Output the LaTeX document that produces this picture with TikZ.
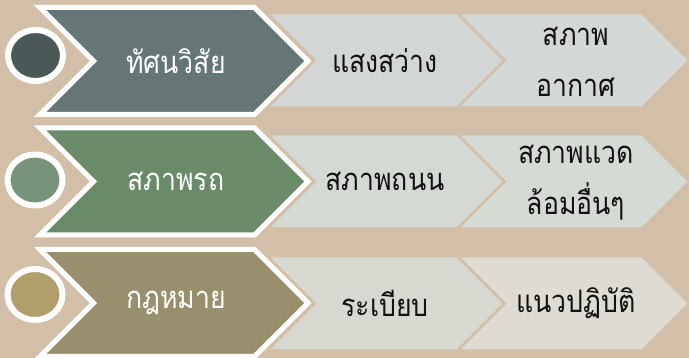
\documentclass[tikz,border=0pt]{standalone}
\usepackage{fontspec}
\newfontfamily\thai[Script=Thai,FakeStretch=0.86]{Loma}
\definecolor{bg}{HTML}{D3BEA7}
\definecolor{darkA}{HTML}{647676}
\definecolor{circA}{HTML}{4A5957}
\definecolor{lightA}{HTML}{D2D6D5}
\definecolor{lightAb}{HTML}{D3D7D6}
\definecolor{darkB}{HTML}{6A8B67}
\definecolor{circB}{HTML}{779379}
\definecolor{lightB}{HTML}{D4DAD3}
\definecolor{lightBb}{HTML}{D5DBD4}
\definecolor{darkC}{HTML}{9A8F6D}
\definecolor{circC}{HTML}{B09F6B}
\definecolor{lightC}{HTML}{D7D8CF}
\definecolor{lightCb}{HTML}{DEDBD3}
\definecolor{ink}{HTML}{111111}
\tikzset{
  lightchev/.style={draw=bg, line width=2pt, line join=miter},
  darkchev/.style={draw=white, line width=5pt, line join=miter},
  ring/.style={draw=white, line width=6pt},
  darktext/.style={text=white, font=\thai\fontsize{31}{51}\selectfont, inner sep=0pt},
  lighttext/.style={text=ink, font=\thai\fontsize{31}{51}\selectfont, inner sep=0pt, align=center},
}
\newcommand{\lchev}[5]{% L, R, center y, half height, colour
  \fill[#5] (#1,#3-#4) -- (#2,#3-#4) -- (#2+#4,#3) -- (#2,#3+#4) -- (#1,#3+#4) -- (#1+#4,#3) -- cycle;
  \draw[lightchev] (#1,#3-#4) -- (#2,#3-#4) -- (#2+#4,#3) -- (#2,#3+#4) -- (#1,#3+#4) -- (#1+#4,#3) -- cycle;}
\newcommand{\dchev}[3]{% center y, half height, colour
  \filldraw[darkchev, fill=#3] (40,#1-#2) -- (254.5,#1-#2) -- (254.5+#2,#1) -- (254.5,#1+#2) -- (40,#1+#2) -- (40+#2,#1) -- cycle;}
\begin{document}
\begin{tikzpicture}[x=1pt,y=-1pt]
\fill[bg] (0,0) rectangle (689,358);
\useasboundingbox (0,0) rectangle (689,358);
% row 1
\lchev{458}{642}{60.5}{47}{lightAb}
\lchev{268}{457}{60.5}{47}{lightA}
\dchev{61}{53.5}{darkA}
\filldraw[ring, fill=circA] (35.5,55.5) ellipse [x radius=27.5, y radius=25.5];
\node[darktext] (a1) at (176,61) {ทัศนวิสัย};
\node[lighttext] (a2) at (385,60.5) {แสงสว่าง};
\node[lighttext] (a3) at (576,62) {สภาพ\\อากาศ};
% row 2
\lchev{458}{642}{181.5}{47}{lightBb}
\lchev{268}{457}{181.5}{47}{lightB}
\dchev{181.5}{53.5}{darkB}
\filldraw[ring, fill=circB] (35,180) ellipse [x radius=27.5, y radius=25.5];
\node[darktext] (b1) at (176,181.5) {สภาพรถ};
\node[lighttext] (b2) at (385,181.5) {สภาพถนน};
\node[lighttext] (b3) at (576,183) {สภาพแวด\\ล้อมอื่นๆ};
% row 3
\lchev{458}{642}{303.5}{47}{lightCb}
\lchev{268}{457}{303.5}{47}{lightC}
\dchev{303}{53.5}{darkC}
\filldraw[ring, fill=circC] (35,294.5) ellipse [x radius=27.5, y radius=25.5];
\node[darktext] (c1) at (176,303) {กฎหมาย};
\node[lighttext] (c2) at (385,303.5) {ระเบียบ};
\node[lighttext] (c3) at (576,303.5) {แนวปฏิบัติ};
\end{tikzpicture}
\end{document}
